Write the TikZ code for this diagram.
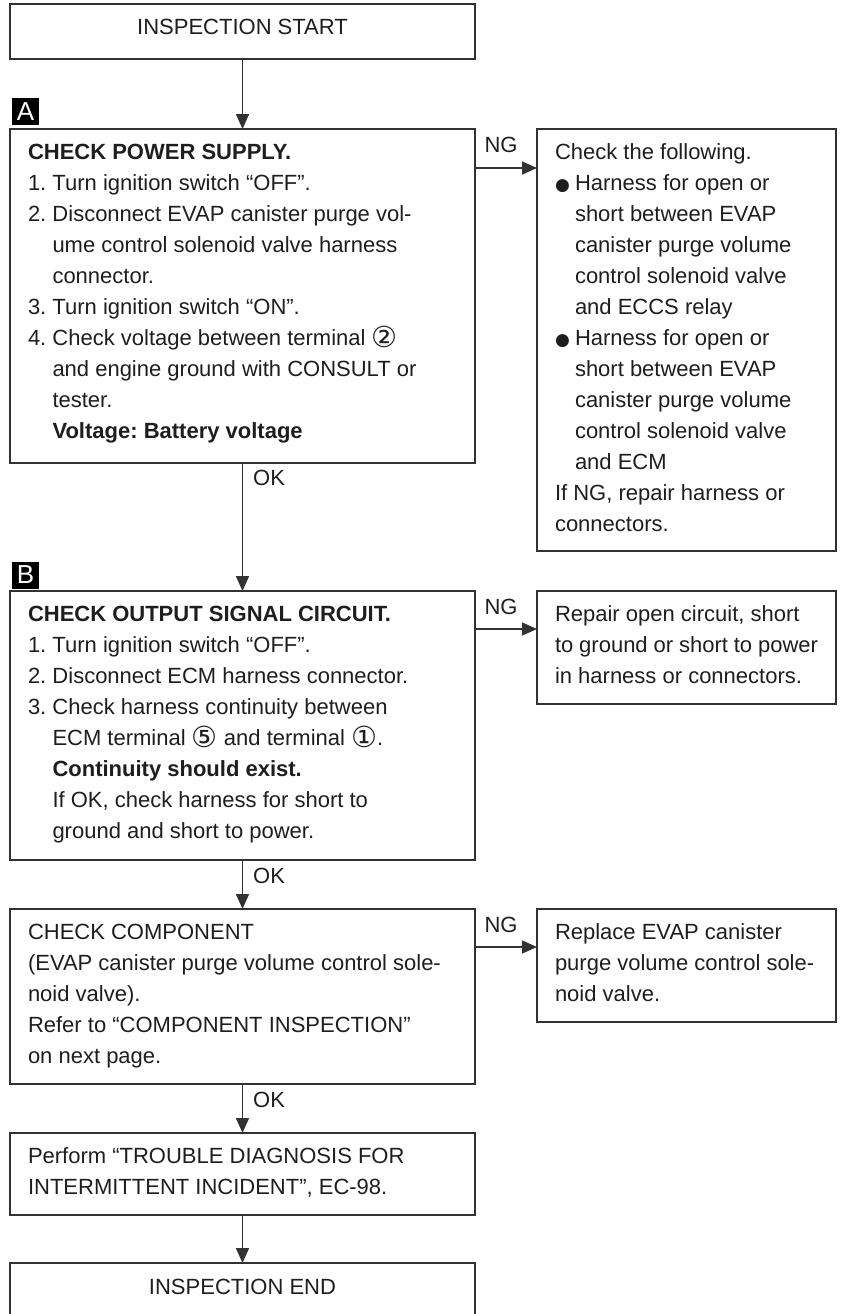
\documentclass[tikz,border=0pt]{standalone}
\usepackage{fontspec}
\setmainfont{Liberation Sans}
\newfontfamily\dejavu{DejaVu Sans}
\usetikzlibrary{arrows.meta}
\frenchspacing
\definecolor{ink}{RGB}{30,30,30}
\definecolor{rulegray}{RGB}{50,50,50}
% list helpers: number / bullet with hanging indent
\newcommand{\numitem}[1]{\makebox[24.5pt][l]{#1}}
\newcommand{\indline}{\hspace*{24.5pt}}
\newcommand{\bulitem}{\makebox[20pt][l]{\raisebox{0.5pt}{\dejavu\fontsize{17pt}{17pt}\selectfont ●}}}
\newcommand{\bulind}{\hspace*{20pt}}
\newcommand{\cnum}[1]{\raisebox{-2pt}{\dejavu\fontsize{29pt}{29pt}\selectfont #1}}
% fixed-height text block, text starting at the top
\newcommand{\boxtext}[3]{\parbox[c][#1][t]{#2}{\raggedright\rule{0pt}{30.5pt}#3}}
\begin{document}
\begin{tikzpicture}[x=1pt,y=-1pt,
  font=\fontsize{22pt}{31pt}\selectfont,
  every node/.style={text=ink},
  flowbox/.style={draw=rulegray, line width=1.5pt, rectangle, inner xsep=18pt,
    inner ysep=0pt, outer sep=0pt, anchor=north west},
  arr/.style={draw=rulegray, line width=1.5pt, -{Triangle[length=15pt,width=13pt]}},
  tag/.style={fill=black, text=white, minimum size=27pt, inner sep=0pt,
    font=\fontsize{26pt}{26pt}\selectfont},
  lbl/.style={inner sep=0pt, anchor=base}]
\useasboundingbox (0,0) rectangle (851,1314);

% start
\node[flowbox] (start) at (10,4)
  {\parbox[c][55pt][t]{429pt}{\centering\rule{0pt}{31pt}INSPECTION START}};

% step A
\node[tag] (tagA) at (25.5,111.5) {A};
\node[flowbox] (chkA) at (10,129) {\boxtext{334pt}{429pt}{%
  \textbf{CHECK POWER SUPPLY.}\\
  \numitem{1.}Turn ignition switch “OFF”.\\
  \numitem{2.}Disconnect EVAP canister purge vol-\\
  \indline ume control solenoid valve harness\\
  \indline connector.\\
  \numitem{3.}Turn ignition switch “ON”.\\
  \numitem{4.}Check voltage between terminal \cnum{②}\\
  \indline and engine ground with CONSULT or\\
  \indline tester.\\
  \indline\textbf{Voltage: Battery voltage}}};
\node[flowbox] (ngA) at (537,129) {\boxtext{422pt}{263pt}{%
  Check the following.\\
  \bulitem Harness for open or\\
  \bulind short between EVAP\\
  \bulind canister purge volume\\
  \bulind control solenoid valve\\
  \bulind and ECCS relay\\
  \bulitem Harness for open or\\
  \bulind short between EVAP\\
  \bulind canister purge volume\\
  \bulind control solenoid valve\\
  \bulind and ECM\\
  If NG, repair harness or\\
  connectors.}};

% step B
\node[tag] (tagB) at (25.5,575) {B};
\node[flowbox] (chkB) at (10,591) {\boxtext{269pt}{429pt}{%
  \textbf{CHECK OUTPUT SIGNAL CIRCUIT.}\\
  \numitem{1.}Turn ignition switch “OFF”.\\
  \numitem{2.}Disconnect ECM harness connector.\\
  \numitem{3.}Check harness continuity between\\
  \indline ECM terminal \cnum{⑤} and terminal \cnum{①}.\\
  \indline\textbf{Continuity should exist.}\\
  \indline If OK, check harness for short to\\
  \indline ground and short to power.}};
\node[flowbox] (ngB) at (537,591) {\boxtext{113pt}{263pt}{%
  Repair open circuit, short\\
  to ground or short to power\\
  in harness or connectors.}};

% component check
\node[flowbox] (chkC) at (10,909) {\boxtext{175pt}{429pt}{%
  CHECK COMPONENT\\
  (EVAP canister purge volume control sole-\\
  noid valve).\\
  Refer to “COMPONENT INSPECTION”\\
  on next page.}};
\node[flowbox] (ngC) at (537,909) {\boxtext{113pt}{263pt}{%
  Replace EVAP canister\\
  purge volume control sole-\\
  noid valve.}};

% final steps
\node[flowbox] (perf) at (10,1133) {\boxtext{82pt}{429pt}{%
  Perform “TROUBLE DIAGNOSIS FOR\\
  INTERMITTENT INCIDENT”, EC-98.}};
\node[flowbox] (finish) at (10,1263)
  {\parbox[c][60pt][t]{429pt}{\centering\rule{0pt}{31pt}INSPECTION END}};

% connectors
\draw[arr] (start.south) -- (chkA.north);
\draw[arr] ([yshift=-39pt]chkA.north east) -- ([yshift=-39pt]ngA.north west);
\node[lbl] (ngAl) at (501,152) {NG};

\draw[arr] (chkA.south) -- (chkB.north);
\node[lbl, anchor=base west] (okA) at (253,485) {OK};

\draw[arr] ([yshift=-38pt]chkB.north east) -- ([yshift=-38pt]ngB.north west);
\node[lbl] (ngBl) at (501,614) {NG};

\draw[arr] (chkB.south) -- (chkC.north);
\node[lbl, anchor=base west] (okB) at (253,883) {OK};

\draw[arr] ([yshift=-38pt]chkC.north east) -- ([yshift=-38pt]ngC.north west);
\node[lbl] (ngCl) at (501,932) {NG};

\draw[arr] (chkC.south) -- (perf.north);
\node[lbl, anchor=base west] (okC) at (253,1107) {OK};

\draw[arr] (perf.south) -- (finish.north);
\end{tikzpicture}
\end{document}
